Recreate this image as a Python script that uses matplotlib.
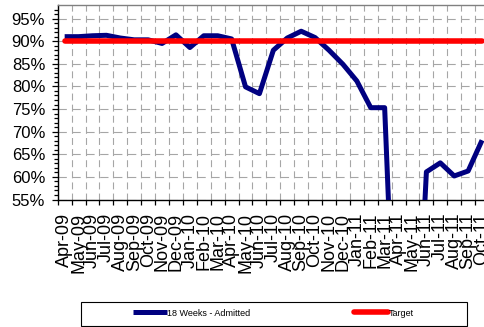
import matplotlib
matplotlib.use("Agg")
import matplotlib.pyplot as plt
import numpy as np
from matplotlib.ticker import FixedLocator, PercentFormatter
from matplotlib.patches import Rectangle

months = ['Apr-09', 'May-09', 'Jun-09', 'Jul-09', 'Aug-09', 'Sep-09', 'Oct-09',
          'Nov-09', 'Dec-09', 'Jan-10', 'Feb-10', 'Mar-10', 'Apr-10', 'May-10',
          'Jun-10', 'Jul-10', 'Aug-10', 'Sep-10', 'Oct-10', 'Nov-10', 'Dec-10',
          'Jan-11', 'Feb-11', 'Mar-11', 'Apr-11', 'May-11', 'Jun-11', 'Jul-11',
          'Aug-11', 'Sep-11', 'Oct-11']
admitted = [91.0, 91.0, 91.2, 91.3, 90.7, 90.3, 90.3, 89.5, 91.4, 88.6,
            91.2, 91.2, 90.5, 79.9, 78.4, 88.0, 90.7, 92.2, 90.8, 88.0,
            84.9, 81.2, 75.3, 75.3, 0.0, 0.0, 61.1, 63.1, 60.2, 61.3, 68.1]
target = [90.0] * len(months)

plt.rcParams['font.family'] = ['Liberation Sans', 'DejaVu Sans']
plt.rcParams['lines.scale_dashes'] = False

W, H = 484, 327
fig = plt.figure(figsize=(W / 100, H / 100), dpi=100)
# plot area runs past the right edge of the canvas
left, right, top, bottom = 57.7, 489.0, 5.0, 199.5
ax = fig.add_axes([left / W, 1 - bottom / H, (right - left) / W, (bottom - top) / H])

x = np.arange(len(months))
ax.plot(x, admitted, color='#000080', lw=3.6, solid_joinstyle='round',
        solid_capstyle='butt', label='18 Weeks - Admitted', zorder=3)
ax.plot(x, target, color='#ff0000', lw=4.0, solid_capstyle='round',
        label='Target', zorder=4)

ax.set_xlim(-0.5, len(months) - 0.5)
ax.set_ylim(55, 98)

# category labels at centres, tick marks and grid at boundaries
ax.xaxis.set_major_locator(FixedLocator(x))
ax.set_xticklabels(months, rotation=90, fontsize=13)
ax.xaxis.set_minor_locator(FixedLocator(np.arange(-0.5, len(months), 1.0)))
ax.tick_params(axis='x', which='major', length=0, pad=9.5)
ax.tick_params(axis='x', which='minor', length=3.3, width=0.9, direction='out',
               color='black')

ax.yaxis.set_major_locator(FixedLocator(np.arange(55, 96, 5)))
ax.yaxis.set_minor_locator(FixedLocator(np.arange(55, 98, 1)))
ax.yaxis.set_major_formatter(PercentFormatter(decimals=0))
ax.tick_params(axis='y', which='major', length=4.5, width=0.9, labelsize=12, pad=4.5)
ax.tick_params(axis='y', which='minor', length=3, width=0.9)

ax.grid(axis='y', which='major', color='#a6a6a6', lw=0.8, dashes=(6, 4))
ax.grid(axis='x', which='minor', color='#a6a6a6', lw=0.8, dashes=(5, 3))
ax.set_axisbelow(True)

for side in ('left', 'bottom'):
    ax.spines[side].set_color('black')
    ax.spines[side].set_linewidth(1.0)
ax.spines['top'].set_color('#808080')
ax.spines['top'].set_linewidth(1.0)
ax.spines['right'].set_color('#808080')

# legend box
fig.patches.append(Rectangle((81 / W, 1 - 326 / H), (467 - 81) / W, (326 - 302) / H,
                             transform=fig.transFigure, fill=False,
                             edgecolor='black', lw=0.8))
leg = fig.legend(loc='center', bbox_to_anchor=(273 / W, 1 - 313 / H), ncol=2,
                 frameon=False, fontsize=6.5, handlelength=3.8,
                 handletextpad=0.0, columnspacing=11.5, borderpad=0)

fig.savefig('out.png', dpi=100)
